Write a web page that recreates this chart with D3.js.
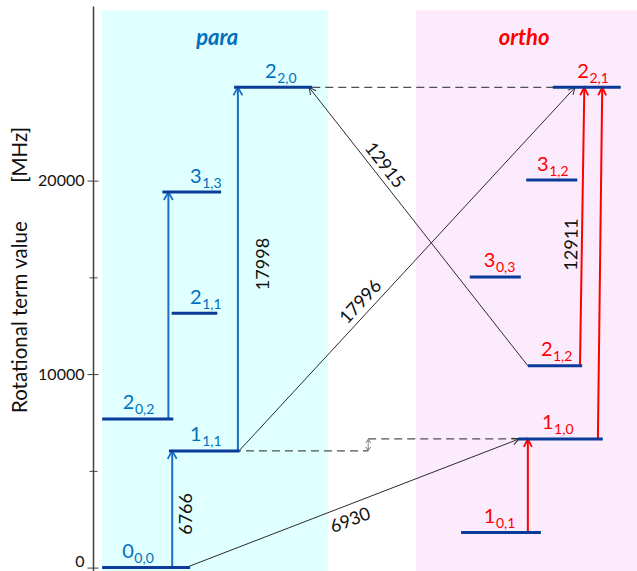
<!DOCTYPE html>
<html>
<head>
<meta charset="utf-8">
<script src="https://cdn.jsdelivr.net/npm/d3@7"></script>
<style>
  html, body { margin: 0; padding: 0; background: #fff; }
  svg { display: block; font-family: Lato, "Open Sans", sans-serif; }
</style>
</head>
<body>
<svg id="chart" width="637" height="571"></svg>
<script>
// Rotational term values (MHz) of the lowest levels J(Ka,Kc)
const paraLevels = [
  { J: 0, Ka: 0, Kc: 0, E: 0 },
  { J: 1, Ka: 1, Kc: 1, E: 6030 },
  { J: 2, Ka: 0, Kc: 2, E: 7680 },
  { J: 2, Ka: 1, Kc: 1, E: 13140 },
  { J: 3, Ka: 1, Kc: 3, E: 19410 },
  { J: 2, Ka: 2, Kc: 0, E: 24820 }
];
const orthoLevels = [
  { J: 1, Ka: 0, Kc: 1, E: 1820 },
  { J: 1, Ka: 1, Kc: 0, E: 6650 },
  { J: 2, Ka: 1, Kc: 2, E: 10430 },
  { J: 3, Ka: 0, Kc: 3, E: 15020 },
  { J: 3, Ka: 1, Kc: 2, E: 20030 },
  { J: 2, Ka: 2, Kc: 1, E: 24820 }
];
// Transitions lower -> upper, line frequency in MHz (null = not labelled)
const transitions = [
  { from: "000", to: "111", freq: 6766,  kind: "para" },
  { from: "202", to: "313", freq: null,  kind: "para" },
  { from: "111", to: "220", freq: 17998, kind: "para" },
  { from: "101", to: "110", freq: null,  kind: "ortho" },
  { from: "212", to: "221", freq: 12911, kind: "ortho" },
  { from: "110", to: "221", freq: null,  kind: "ortho" },
  { from: "000", to: "110", freq: 6930,  kind: "cross" },
  { from: "111", to: "221", freq: 17996, kind: "cross" },
  { from: "212", to: "220", freq: 12915, kind: "cross" }
];
const yTicks = [0, 5000, 10000, 15000, 20000];
const yTickLabels = [0, 10000, 20000];
const yMax = 29000;

// ---- layout (horizontal placement in column units 0..100) ----
const W = 637, H = 571;
const axisX = 93.5;
const xs = d3.scaleLinear().domain([0, 100]).range([94, 637]);
const y = d3.scaleLinear().domain([0, yMax]).range([567.6, 6.45]);

const levelPos = {
  "000": { x0: 1.5,  x1: 17.7, lx: 5.2 },
  "111": { x0: 13.8, x1: 26.8, lx: 17.7 },
  "202": { x0: 1.5,  x1: 14.6, lx: 5.3 },
  "211": { x0: 14.3, x1: 22.7, lx: 17.7 },
  "313": { x0: 12.6, x1: 23.4, lx: 17.7 },
  "220": { x0: 25.8, x1: 40.2, lx: 31.5 },
  "101": { x0: 67.6, x1: 82.3, lx: 71.8 },
  "110": { x0: 78.1, x1: 93.7, lx: 82.5 },
  "212": { x0: 79.9, x1: 89.9, lx: 82.3 },
  "303": { x0: 69.2, x1: 78.6, lx: 71.8 },
  "312": { x0: 79.6, x1: 89.0, lx: 81.6 },
  "221": { x0: 84.5, x1: 97.0, lx: 89.0 }
};
// start/end column of each transition line, label position along it and offset
const transPos = [
  { xa: 14.4, xb: 14.4, t: 0.46,  off: 20 },
  { xa: 13.7, xb: 13.7 },
  { xa: 26.5, xb: 26.5, t: 0.514, off: 30.8 },
  { xa: 79.9, xb: 79.9 },
  { xa: 89.5, xb: 90.3, t: 0.435, off: -4.5 },
  { xa: 92.8, xb: 93.6 },
  { xa: 16.9, xb: 78.3, t: 0.477, off: 21 },
  { xa: 26.7, xb: 88.6, t: 0.388, off: -6 },
  { xa: 79.9, xb: 39.6, t: 0.695, off: -5.5 }
];

const C = {
  paraBg: "#e0ffff", orthoBg: "#fcebfc",
  level: "#0b3b98", paraText: "#0070c0", paraArrow: "#1a6fc4",
  ortho: "#ff0000", black: "#2b2b2b", dash: "#505050", axis: "#404040"
};

const key = d => `${d.J}${d.Ka}${d.Kc}`;
const levels = {};
paraLevels.forEach(d => levels[key(d)] = { ...d, side: "para" });
orthoLevels.forEach(d => levels[key(d)] = { ...d, side: "ortho" });

const svg = d3.select("#chart");
const defs = svg.append("defs");

function arrowMarker(id, color, len, half, sw) {
  defs.append("marker")
    .attr("id", id)
    .attr("markerUnits", "userSpaceOnUse")
    .attr("viewBox", `${-len - 2} ${-half - 2} ${len + 4} ${2 * half + 4}`)
    .attr("markerWidth", len + 4).attr("markerHeight", 2 * half + 4)
    .attr("refX", 0).attr("refY", 0)
    .attr("orient", "auto-start-reverse")
    .append("path")
    .attr("d", `M${-len},${-half} L0,0 L${-len},${half}`)
    .attr("fill", "none").attr("stroke", color)
    .attr("stroke-width", sw).attr("stroke-linejoin", "miter");
}
arrowMarker("arPara", C.paraArrow, 8, 4.5, 1.8);
arrowMarker("arOrtho", C.ortho, 8, 4, 1.8);
arrowMarker("arBlack", C.black, 7, 3.5, 1);
arrowMarker("arSmall", "#666", 3.5, 2.5, 0.9);

// ---- backgrounds ----
svg.append("rect").attr("x", xs(1.5)).attr("y", y(28800))
  .attr("width", xs(43.1) - xs(1.5)).attr("height", H - y(28800)).attr("fill", C.paraBg);
svg.append("rect").attr("x", xs(59.3)).attr("y", y(28800))
  .attr("width", xs(100) - xs(59.3)).attr("height", H - y(28800)).attr("fill", C.orthoBg);

svg.append("text").attr("x", xs(22.7)).attr("y", y(27000))
  .attr("text-anchor", "middle").attr("fill", C.paraText)
  .attr("font-size", 22).attr("font-weight", "bold").attr("font-style", "italic").text("para");
svg.append("text").attr("x", xs(79.2)).attr("y", y(27000))
  .attr("text-anchor", "middle").attr("fill", C.ortho)
  .attr("font-size", 22).attr("font-weight", "bold").attr("font-style", "italic").text("ortho");

// ---- axis ----
const axisG = svg.append("g").attr("transform", `translate(${axisX},0)`)
  .call(d3.axisLeft(y).tickValues(yTicks)
    .tickFormat(d => yTickLabels.includes(d) ? String(d) : "")
    .tickSizeOuter(0));
axisG.select(".domain").remove();
axisG.selectAll(".tick line")
  .attr("x1", d => yTickLabels.includes(d) ? -6 : -4)
  .attr("x2", d => yTickLabels.includes(d) ? 5 : 4)
  .attr("stroke", C.axis).attr("stroke-width", 1);
axisG.selectAll(".tick text")
  .attr("x", -9).attr("font-size", 16).attr("font-family", "Lato, sans-serif").attr("fill", "#111")
  .attr("dy", d => d === 0 ? "-0.08em" : "0.32em");  // keep the bottom label inside the frame
svg.append("line").attr("x1", axisX).attr("x2", axisX)
  .attr("y1", y(yMax)).attr("y2", H)
  .attr("stroke", C.axis).attr("stroke-width", 1.5);

// axis title: quantity and unit, read bottom-to-top
svg.append("text")
  .attr("transform", "translate(26.5,413) rotate(-90)")
  .attr("text-anchor", "start").attr("font-size", 20.5).attr("fill", "#111")
  .text("Rotational term value");
svg.append("text")
  .attr("transform", "translate(26.5,127) rotate(-90)")
  .attr("text-anchor", "end").attr("font-size", 20.5).attr("fill", "#111")
  .text("[MHz]");

// ---- dashed guide lines ----
const dashG = svg.append("g").attr("stroke", C.dash).attr("stroke-width", 1.4)
  .attr("stroke-dasharray", "8,5").attr("fill", "none");
dashG.append("line").attr("x1", xs(40.2)).attr("x2", xs(85.5))
  .attr("y1", y(levels["220"].E)).attr("y2", y(levels["221"].E));
dashG.append("line").attr("x1", xs(20.8)).attr("x2", xs(50.5))
  .attr("y1", y(levels["111"].E)).attr("y2", y(levels["111"].E));
dashG.append("line").attr("x1", xs(50.5)).attr("x2", xs(78.5))
  .attr("y1", y(levels["110"].E)).attr("y2", y(levels["110"].E));
svg.append("line").attr("x1", xs(50.5)).attr("x2", xs(50.5))
  .attr("y1", y(levels["111"].E) - 0.5).attr("y2", y(levels["110"].E) + 0.5)
  .attr("stroke", "#777").attr("stroke-width", 0.9)
  .attr("marker-start", "url(#arSmall)").attr("marker-end", "url(#arSmall)");

// ---- transitions ----
const style = {
  para:  { stroke: C.paraArrow, w: 2,   m: "arPara" },
  ortho: { stroke: C.ortho,     w: 2,   m: "arOrtho" },
  cross: { stroke: C.black,     w: 1,   m: "arBlack" }
};
const tr = transitions.map((d, i) => {
  const p = transPos[i];
  return {
    ...d, ...p,
    x1: xs(p.xa), y1: y(levels[d.from].E),
    x2: xs(p.xb), y2: y(levels[d.to].E)
  };
});
svg.append("g").selectAll("line").data(tr).join("line")
  .attr("x1", d => d.x1).attr("y1", d => d.y1)
  .attr("x2", d => d.x2).attr("y2", d => d.y2)
  .attr("stroke", d => style[d.kind].stroke)
  .attr("stroke-width", d => style[d.kind].w)
  .attr("marker-end", d => `url(#${style[d.kind].m})`);

svg.append("g").selectAll("text").data(tr.filter(d => d.freq !== null)).join("text")
  .attr("transform", d => {
    const px = d.x1 + (d.x2 - d.x1) * d.t, py = d.y1 + (d.y2 - d.y1) * d.t;
    let a = Math.atan2(d.y2 - d.y1, d.x2 - d.x1) * 180 / Math.PI;
    if (a < -90) a += 180;
    if (a > 90) a -= 180;
    return `translate(${px},${py}) rotate(${a})`;
  })
  .attr("y", d => d.off)
  .attr("text-anchor", "middle").attr("font-size", 18).attr("fill", "#111")
  .text(d => d.freq);

// ---- levels ----
const levelList = Object.values(levels);
svg.append("g").selectAll("line").data(levelList).join("line")
  .attr("x1", d => xs(levelPos[key(d)].x0)).attr("x2", d => xs(levelPos[key(d)].x1))
  .attr("y1", d => y(d.E)).attr("y2", d => y(d.E))
  .attr("stroke", C.level).attr("stroke-width", 3);

const lab = svg.append("g").selectAll("text").data(levelList).join("text")
  .attr("x", d => xs(levelPos[key(d)].lx)).attr("y", d => y(d.E) - 9.5)
  .attr("fill", d => d.side === "para" ? C.paraText : C.ortho);
lab.append("tspan").attr("font-size", 20).text(d => d.J);
lab.append("tspan").attr("font-size", 14).attr("dy", 5).attr("dx", 0.5)
  .text(d => `${d.Ka},${d.Kc}`);
</script>
</body>
</html>
